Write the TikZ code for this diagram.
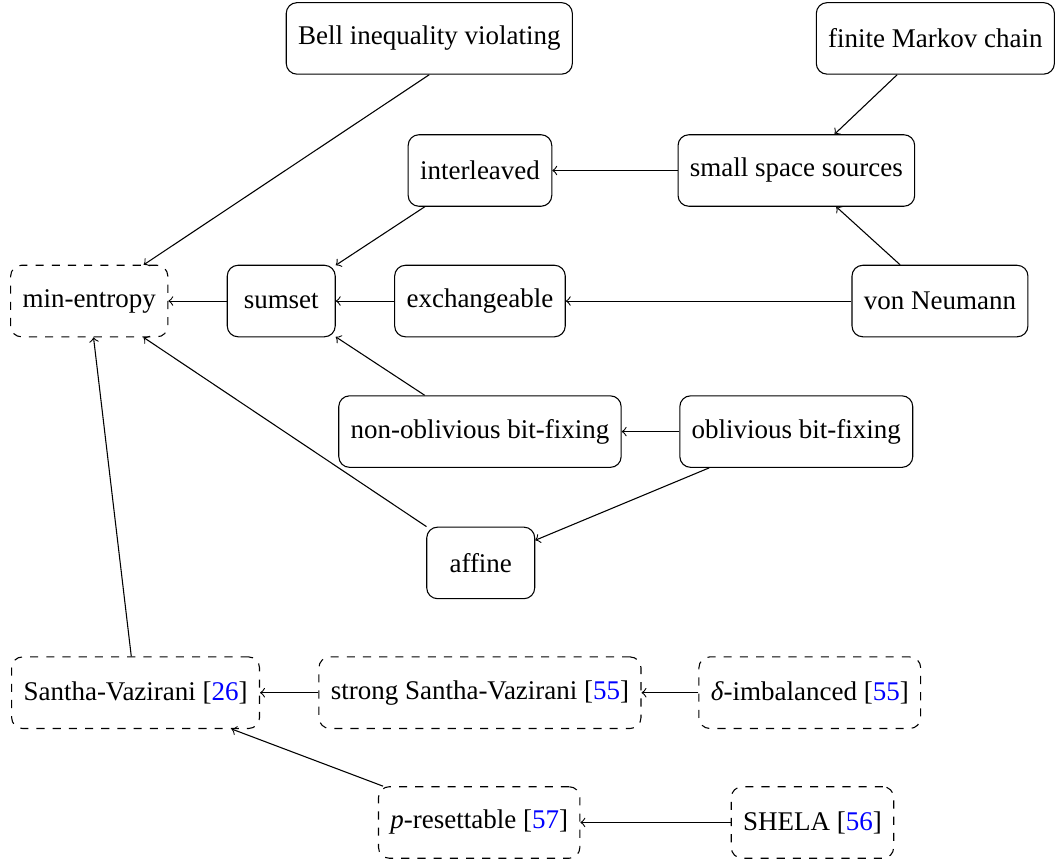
\documentclass[tikz,border=0pt]{standalone}
\usepackage{fontspec}
\setmainfont{Liberation Serif}
\usetikzlibrary{arrows, positioning}

\begin{document}
\begin{tikzpicture}[
    source/.style={rectangle, draw, rounded corners=4pt, minimum width=40pt, minimum height=26.5pt, inner xsep=4.4pt, text centered},
    general/.style={source, dashed},
    arrow/.style={->},
    node distance=0.75cm
]
    \useasboundingbox (0,0) rectangle (13.79,-11.19);

    % Top rows
    \node[source] (bell) at (5.59,-0.50) {Bell inequality violating};
    \node[source] (markov) at (12.18,-0.50) {finite Markov chain};
    \node[source] (interleaved) at (6.25,-2.22) {interleaved};
    \node[source] (smallspace) at (10.37,-2.22) {small space sources};

    % Middle rows
    \node[source] (exchangeable) at (6.25,-3.92) {exchangeable};
    \node[source, left=0.76cm of exchangeable] (sumset) {sumset};
    \node[general, left=0.76cm of sumset] (minentropy) {min-entropy};
    \node[source] (neumann) at (12.24,-3.92) {von Neumann};
    \node[source] (nonoblivious) at (6.25,-5.62) {non-oblivious bit-fixing};
    \node[source, right=0.75cm of nonoblivious] (oblivious) {oblivious bit-fixing};
    \node[source] (affine) at (6.26,-7.33) {affine};

    % Bottom rows
    \node[general] (strongsv) at (6.25,-9.02) {strong Santha-Vazirani [\textcolor{blue}{55}]};
    \node[general, left=0.76cm of strongsv] (santha) {Santha-Vazirani [\textcolor{blue}{26}]};
    \node[general, right=0.74cm of strongsv] (imbalanced) {\textit{δ}-imbalanced [\textcolor{blue}{55}]};
    \node[general] (resettable) at (6.24,-10.71) {\textit{p}-resettable [\textcolor{blue}{57}]};
    \node[general] (shela) at (10.58,-10.71) {SHELA [\textcolor{blue}{56}]};

    % Reductions
    \draw[arrow] (bell.south) -- (minentropy);
    \draw[arrow] (markov) -- (smallspace);
    \draw[arrow] (smallspace) -- (interleaved);
    \draw[arrow] (neumann) -- (smallspace);
    \draw[arrow] (interleaved) -- (sumset);
    \draw[arrow] (sumset) -- (minentropy);
    \draw[arrow] (exchangeable) -- (sumset);
    \draw[arrow] (neumann) -- (exchangeable);
    \draw[arrow] (nonoblivious) -- (sumset);
    \draw[arrow] (oblivious) -- (nonoblivious);
    \draw[arrow] (oblivious) -- (affine);
    \draw[arrow] (affine) -- (minentropy);
    \draw[arrow] (santha) -- (minentropy);
    \draw[arrow] (strongsv) -- (santha);
    \draw[arrow] (imbalanced) -- (strongsv);
    \draw[arrow] (resettable) -- (santha);
    \draw[arrow] (shela) -- (resettable);
\end{tikzpicture}
\end{document}
